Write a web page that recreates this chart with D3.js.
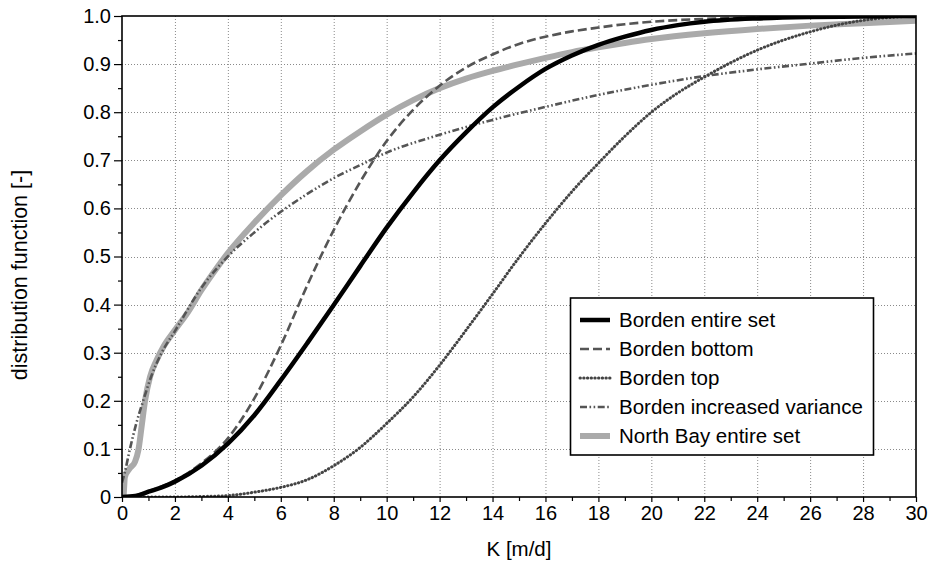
<!DOCTYPE html>
<html>
<head>
<meta charset="utf-8">
<script src="https://cdn.jsdelivr.net/npm/d3@7/dist/d3.min.js"></script>
<style>
  html, body { margin: 0; padding: 0; background: #fff; }
  svg { display: block; font-family: "Liberation Sans", Arial, Helvetica, sans-serif; }
</style>
</head>
<body>
<svg id="chart" width="928" height="565"></svg>
<script>
// Cumulative distribution functions of hydraulic conductivity K [m/d]
const bordenEntireK = [0, 0.5, 1, 1.5, 2, 3, 4, 5, 6, 7, 8, 9, 10, 11, 12, 13, 14, 15, 16, 17, 18, 19, 20, 21, 22, 24, 26, 28, 30];
const bordenEntireF = [0, 0.002, 0.011, 0.02, 0.032, 0.065, 0.111, 0.17, 0.243, 0.32, 0.399, 0.48, 0.56, 0.633, 0.70, 0.758, 0.81, 0.853, 0.89, 0.918, 0.94, 0.957, 0.971, 0.981, 0.988, 0.995, 0.998, 0.999, 1.0];

const bordenBottomK = [0, 0.5, 1, 2, 3, 4, 5, 6, 7, 8, 9, 10, 11, 12, 13, 14, 15, 16, 17, 18, 19, 20, 22, 24, 26, 30];
const bordenBottomF = [0, 0.003, 0.012, 0.034, 0.07, 0.122, 0.205, 0.315, 0.44, 0.555, 0.655, 0.74, 0.805, 0.855, 0.893, 0.92, 0.942, 0.957, 0.968, 0.976, 0.983, 0.988, 0.994, 0.997, 0.999, 1.0];

const bordenTopK = [0, 2, 3, 4, 5, 6, 7, 8, 9, 10, 11, 12, 13, 14, 15, 16, 17, 18, 19, 20, 21, 22, 23, 24, 25, 26, 27, 28, 29, 30];
const bordenTopF = [0, 0, 0.001, 0.003, 0.01, 0.02, 0.036, 0.065, 0.103, 0.153, 0.208, 0.274, 0.347, 0.422, 0.498, 0.569, 0.635, 0.694, 0.75, 0.8, 0.84, 0.873, 0.903, 0.929, 0.95, 0.967, 0.981, 0.991, 0.997, 1.0];

const bordenVarK = [0, 0.1, 0.3, 0.55, 0.8, 1.1, 1.5, 2, 3, 4, 5, 6, 7, 8, 9, 10, 12, 14, 16, 18, 20, 22, 24, 26, 28, 30];
const bordenVarF = [0.03, 0.05, 0.1, 0.155, 0.2, 0.25, 0.3, 0.345, 0.435, 0.5, 0.55, 0.593, 0.63, 0.663, 0.69, 0.716, 0.753, 0.784, 0.811, 0.836, 0.857, 0.875, 0.889, 0.901, 0.913, 0.922];

const northBayK = [0, 0.05, 0.11, 0.3, 0.49, 0.62, 0.74, 0.87, 1.06, 1.31, 1.56, 2, 2.5, 3, 3.5, 4, 5, 6, 7, 8, 9, 10, 11, 12, 13, 14, 15, 16, 17, 18, 19, 20, 22, 24, 26, 28, 30];
const northBayF = [0, 0, 0.042, 0.06, 0.073, 0.098, 0.146, 0.2, 0.25, 0.285, 0.312, 0.347, 0.385, 0.43, 0.47, 0.507, 0.57, 0.627, 0.678, 0.722, 0.76, 0.795, 0.825, 0.85, 0.87, 0.886, 0.9, 0.913, 0.925, 0.935, 0.944, 0.952, 0.964, 0.973, 0.98, 0.985, 0.99];

const seriesNames = ["Borden entire set", "Borden bottom", "Borden top", "Borden increased variance", "North Bay entire set"];

const xTicks = d3.range(0, 31, 2);
const xMinor = d3.range(1, 30, 2);
const yTicks = d3.range(0, 11).map(i => i / 10);
const yMinor = d3.range(0, 10).map(i => i / 10 + 0.05);
const yTickLabels = ["0", "0.1", "0.2", "0.3", "0.4", "0.5", "0.6", "0.7", "0.8", "0.9", "1.0"];

const styles = [
  { stroke: "#000000", width: 4.5, dash: null, cap: "butt" },
  { stroke: "#555555", width: 2.6, dash: "9,4", cap: "butt" },
  { stroke: "#444444", width: 3, dash: "0.4,3.3", cap: "round" },
  { stroke: "#555555", width: 2.6, dash: "7,2.5,1.6,2.5,1.6,2.5", cap: "butt" },
  { stroke: "#aaaaaa", width: 6, dash: null, cap: "butt" }
];

const series = [
  { K: bordenEntireK, F: bordenEntireF },
  { K: bordenBottomK, F: bordenBottomF },
  { K: bordenTopK, F: bordenTopF },
  { K: bordenVarK, F: bordenVarF },
  { K: northBayK, F: northBayF }
];

const W = 928, H = 565;
const margin = { left: 122, right: 12, top: 16, bottom: 68 };
const svg = d3.select("#chart");

const x = d3.scaleLinear().domain([0, 30]).range([margin.left, W - margin.right]);
const y = d3.scaleLinear().domain([0, 1]).range([H - margin.bottom, margin.top]);

const defs = svg.append("defs");
defs.append("clipPath").attr("id", "plot-clip")
  .append("rect")
  .attr("x", x(0)).attr("y", y(1))
  .attr("width", x(30) - x(0)).attr("height", y(0) - y(1));

// dotted grid
const grid = svg.append("g").attr("stroke", "#8a8a8a").attr("stroke-width", 1).attr("stroke-dasharray", "1,2");
grid.selectAll("line.gx").data(xTicks.slice(1, -1)).join("line")
  .attr("x1", d => x(d) + 0.5).attr("x2", d => x(d) + 0.5)
  .attr("y1", y(0)).attr("y2", y(1));
grid.selectAll("line.gy").data(yTicks.slice(1, -1)).join("line")
  .attr("x1", x(0)).attr("x2", x(30))
  .attr("y1", d => Math.round(y(d)) + 0.5).attr("y2", d => Math.round(y(d)) + 0.5);

// curves
const line = d3.line().x(d => x(d[0])).y(d => y(d[1])).curve(d3.curveMonotoneX);
const curves = svg.append("g").attr("clip-path", "url(#plot-clip)");
// draw order: grey underneath, black last
const order = [4, 3, 2, 1, 0];
order.forEach(i => {
  const s = series[i], st = styles[i];
  curves.append("path")
    .datum(s.K.map((k, j) => [k, s.F[j]]))
    .attr("fill", "none")
    .attr("stroke", st.stroke)
    .attr("stroke-width", st.width)
    .attr("stroke-dasharray", st.dash)
    .attr("stroke-linecap", st.cap)
    .attr("stroke-linejoin", "round")
    .attr("d", line);
});

// axes
const fontSize = 20;
const xAxis = d3.axisBottom(x).tickValues(xTicks).tickSize(5).tickPadding(4).tickFormat(d3.format("d"));
const gx = svg.append("g").attr("transform", `translate(0,${y(0)})`).call(xAxis);
gx.select(".domain").remove();
svg.append("g").attr("transform", `translate(0,${y(0)})`)
  .call(d3.axisBottom(x).tickValues(xMinor).tickSize(4).tickFormat(""))
  .select(".domain").remove();

const yAxis = d3.axisLeft(y).tickValues(yTicks).tickSize(8).tickPadding(3).tickFormat((d, i) => yTickLabels[i]);
const gy = svg.append("g").attr("transform", `translate(${x(0)},0)`).call(yAxis);
gy.select(".domain").remove();
svg.append("g").attr("transform", `translate(${x(0)},0)`)
  .call(d3.axisLeft(y).tickValues(yMinor).tickSize(4).tickFormat(""))
  .select(".domain").remove();

svg.selectAll(".tick line").attr("stroke", "#000").attr("stroke-width", 1.2);
svg.selectAll(".tick text").attr("font-size", fontSize).attr("fill", "#000")
  .attr("font-family", "'Liberation Sans', Arial, sans-serif");

// plot frame
svg.append("rect")
  .attr("x", x(0)).attr("y", y(1))
  .attr("width", x(30) - x(0)).attr("height", y(0) - y(1))
  .attr("fill", "none").attr("stroke", "#000").attr("stroke-width", 1.6);

// axis titles
svg.append("text")
  .attr("x", (x(0) + x(30)) / 2).attr("y", 556)
  .attr("text-anchor", "middle").attr("font-size", 20.5).attr("fill", "#000")
  .text("K [m/d]");
svg.append("text")
  .attr("transform", `translate(27,275) rotate(-90)`)
  .attr("text-anchor", "middle").attr("font-size", 21.5).attr("fill", "#000")
  .text("distribution function [-]");

// legend
const legend = svg.append("g");
legend.append("rect")
  .attr("x", 570.5).attr("y", 298).attr("width", 303).attr("height", 157)
  .attr("fill", "#fff").attr("stroke", "#000").attr("stroke-width", 1.6);
seriesNames.forEach((name, i) => {
  const cy = 320 + i * 29;
  const st = styles[i];
  legend.append("line")
    .attr("x1", 580).attr("x2", 610).attr("y1", cy).attr("y2", cy)
    .attr("stroke", st.stroke).attr("stroke-width", st.width)
    .attr("stroke-dasharray", st.dash)
    .attr("stroke-linecap", st.cap);
  legend.append("text")
    .attr("x", 619).attr("y", cy).attr("dy", "0.35em")
    .attr("font-size", 20.5).attr("fill", "#000")
    .text(name);
});
</script>
</body>
</html>
